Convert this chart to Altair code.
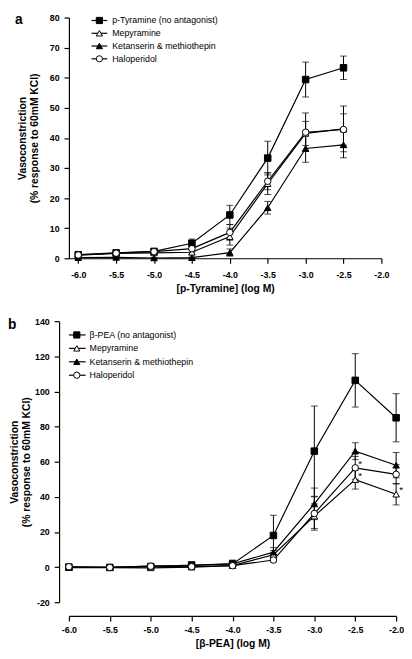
import altair as alt
import pandas as pd

FONT = "Liberation Sans"
MINUS = "\u2212"

# ---------------- data: panel a ----------------
a_x = [-6.0, -5.5, -5.0, -4.5, -4.0, -3.5, -3.0, -2.5]
a_names = ["p-Tyramine (no antagonist)", "Mepyramine", "Ketanserin & methiothepin", "Haloperidol"]
a_tyr = [1.2, 1.8, 2.3, 5.0, 14.4, 33.3, 59.4, 63.3]
a_tyr_err = [0.5, 0.6, 0.6, 1.4, 3.2, 5.6, 5.8, 3.9]
a_mep = [1.0, 1.6, 1.8, 2.0, 7.2, 24.8, 41.5, 43.0]
a_mep_err = [0.4, 0.5, 0.5, 0.8, 2.8, 3.6, 4.0, 7.6]
a_ket = [0.2, 0.3, 0.1, 0.2, 1.9, 16.8, 36.5, 37.7]
a_ket_err = [0.2, 0.2, 0.1, 0.2, 1.2, 2.1, 4.6, 4.3]
a_hal = [1.1, 1.7, 2.2, 3.2, 8.6, 25.6, 41.9, 42.8]
a_hal_err = [0.4, 0.5, 0.5, 1.2, 2.6, 2.8, 6.4, 5.2]
a_sig = [0, 0, 0, 0, 0, 0, 0, 0]

# ---------------- data: panel b ----------------
b_x = [-6.0, -5.5, -5.0, -4.5, -4.0, -3.5, -3.0, -2.5, -2.0]
b_names = ["\u03b2-PEA (no antagonist)", "Mepyramine", "Ketanserin & methiothepin", "Haloperidol"]
b_pea = [0.0, -0.2, 0.3, 1.2, 1.8, 18.0, 66.0, 106.3, 85.0]
b_pea_err = [0.5, 0.5, 0.6, 1.0, 2.2, 11.5, 25.7, 15.2, 13.7]
b_mep = [-0.3, -0.3, -0.4, 0.0, 0.8, 7.0, 29.0, 49.8, 41.5]
b_mep_err = [0.3, 0.3, 0.4, 0.5, 0.8, 2.5, 7.0, 5.4, 6.1]
b_ket = [0.0, -0.2, 0.5, 0.8, 1.8, 8.5, 36.0, 66.0, 58.0]
b_ket_err = [0.3, 0.3, 0.4, 0.6, 1.0, 2.6, 9.0, 4.8, 7.2]
b_hal = [0.2, -0.2, 0.5, 0.2, 0.8, 4.0, 30.5, 56.5, 52.8]
b_hal_err = [0.3, 0.3, 0.4, 0.5, 0.6, 1.0, 9.5, 6.5, 5.5]
b_mep_sig = [0, 0, 0, 0, 0, 0, 0, 1, 1]
b_hal_sig = [0, 0, 0, 0, 0, 0, 0, 1, 0]
b_none_sig = [0, 0, 0, 0, 0, 0, 0, 0, 0]

x_ticks = [-6.0, -5.5, -5.0, -4.5, -4.0, -3.5, -3.0, -2.5, -2.0]
a_y_ticks = [0, 10, 20, 30, 40, 50, 60, 70, 80]
b_y_ticks = [-20, 0, 20, 40, 60, 80, 100, 120, 140]

SHAPES = ["square", "triangle-up", "triangle-up", "circle"]
FILLS = ["black", "white", "black", "white"]


def make_df(x, series):
    rows = []
    for name, vals, errs, sig in series:
        for xi, v, e, s in zip(x, vals, errs, sig):
            rows.append(dict(x=xi, y=v, lo=v - e, hi=v + e, series=name,
                             sig="*" if s else ""))
    return pd.DataFrame(rows)


df_a = make_df(a_x, [(a_names[0], a_tyr, a_tyr_err, a_sig),
                     (a_names[1], a_mep, a_mep_err, a_sig),
                     (a_names[2], a_ket, a_ket_err, a_sig),
                     (a_names[3], a_hal, a_hal_err, a_sig)])
df_b = make_df(b_x, [(b_names[0], b_pea, b_pea_err, b_none_sig),
                     (b_names[1], b_mep, b_mep_err, b_mep_sig),
                     (b_names[2], b_ket, b_ket_err, b_none_sig),
                     (b_names[3], b_hal, b_hal_err, b_hal_sig)])

label_expr = "replace(format(datum.value, '%s'), '" + MINUS + "', '-')"


def panel(df, names, letter, xdom, ydom, yticks, width, height, xtitle,
          y_offset, x_offset, y_title_pad, x_label_pad, leg_x, leg_rows, letter_xy):
    shape_scale = alt.Scale(domain=names, range=SHAPES)
    fill_scale = alt.Scale(domain=names, range=FILLS)
    xs = alt.Scale(domain=xdom, nice=False, zero=False)
    ys = alt.Scale(domain=ydom, nice=False, zero=False)
    xax = alt.Axis(values=x_ticks, labelExpr=label_expr % ".1f", title=xtitle,
                   offset=x_offset, labelPadding=x_label_pad, titlePadding=4,
                   labelOverlap=False, tickCount=len(x_ticks))
    yax = alt.Axis(values=yticks, labelExpr=label_expr % "d",
                   title=["Vasoconstriction", "(% response to 60mM KCl)"],
                   offset=y_offset, titlePadding=y_title_pad,
                   labelOverlap=False, tickCount=len(yticks))

    def X(f="x"):
        return alt.X(f + ":Q", scale=xs, axis=xax)

    def Y(f):
        return alt.Y(f + ":Q", scale=ys, axis=yax)

    base = alt.Chart(df)
    lines = base.mark_line(color="black", strokeWidth=1.2).encode(
        x=X(), y=Y("y"), detail="series:N")
    bars = base.mark_rule(color="black", strokeWidth=1).encode(
        x=X(), y=Y("lo"), y2="hi:Q")
    cap_lo = base.mark_tick(orient="horizontal", color="black", size=7,
                            thickness=1).encode(x=X(), y=Y("lo"))
    cap_hi = base.mark_tick(orient="horizontal", color="black", size=7,
                            thickness=1).encode(x=X(), y=Y("hi"))
    pts = base.mark_point(filled=True, stroke="black", strokeWidth=1, opacity=1,
                          size=44).encode(
        x=X(), y=Y("y"),
        shape=alt.Shape("series:N", scale=shape_scale, legend=None),
        fill=alt.Fill("series:N", scale=fill_scale, legend=None))
    stars = base.transform_filter("datum.sig != ''").mark_text(
        dx=5, dy=-4, fontSize=10, font=FONT, color="black").encode(
        x=X(), y=Y("y"), text="sig:N")
    data_layer = alt.layer(lines, bars, cap_lo, cap_hi, pts, stars)

    leg_df = pd.DataFrame({"series": names, "row": [0, 1, 2, 3]})
    LY = alt.Y("row:Q", scale=alt.Scale(domain=[0, 3], range=leg_rows), axis=None)
    lbase = alt.Chart(leg_df)
    leg_line = lbase.mark_rule(color="black", strokeWidth=1.2).encode(
        x=alt.value(leg_x[0]), x2=alt.value(leg_x[1]), y=LY)
    leg_pt = lbase.mark_point(filled=True, stroke="black", strokeWidth=1,
                              opacity=1, size=40).encode(
        x=alt.value(leg_x[2]), y=LY,
        shape=alt.Shape("series:N", scale=shape_scale, legend=None),
        fill=alt.Fill("series:N", scale=fill_scale, legend=None))
    leg_txt = lbase.mark_text(align="left", baseline="middle", fontSize=9,
                              font=FONT, color="black").encode(
        x=alt.value(leg_x[3]), y=LY, text="series:N")
    letter_layer = alt.Chart(pd.DataFrame({"t": [letter]})).mark_text(
        align="left", baseline="top", fontSize=14, fontWeight="bold",
        font=FONT, color="black").encode(
        x=alt.value(letter_xy[0]), y=alt.value(letter_xy[1]), text="t:N")
    legend_layer = alt.layer(leg_line, leg_pt, leg_txt, letter_layer)

    return alt.layer(data_layer, legend_layer).resolve_scale(
        y="independent").properties(width=width, height=height)


panel_a = panel(df_a, a_names, "a", [-6.123, -2.0], [0, 80], a_y_ticks,
                318, 245, "[p-Tyramine] (log M)", 0, 0, 10, 8,
                [23, 39, 31, 44], [3, 42], [-55, -4])
panel_b = panel(df_b, b_names, "b", [-6.0, -2.0], [-20, 140], b_y_ticks,
                333, 286, "[\u03b2-PEA] (log M)", 10, 14, 3, 5,
                [0, 17, 8, 21], [14, 55], [-62, -3])

chart = alt.vconcat(panel_a, panel_b, spacing=64, bounds="flush").properties(
    padding=0
).configure_view(stroke=None).configure_axis(
    grid=False, domainColor="black", domainWidth=1.2, tickColor="black",
    tickWidth=1.2, tickSize=5, labelColor="black", titleColor="black",
    labelFont=FONT, titleFont=FONT, labelFontSize=9, labelFontWeight="bold",
    titleFontSize=10.5, titleFontWeight="bold", titleLineHeight=12.5,
    labelPadding=5, labelFlush=False, labelOverlap=False
)

chart.save("out.html", embed_options={"renderer": "svg", "actions": False})
